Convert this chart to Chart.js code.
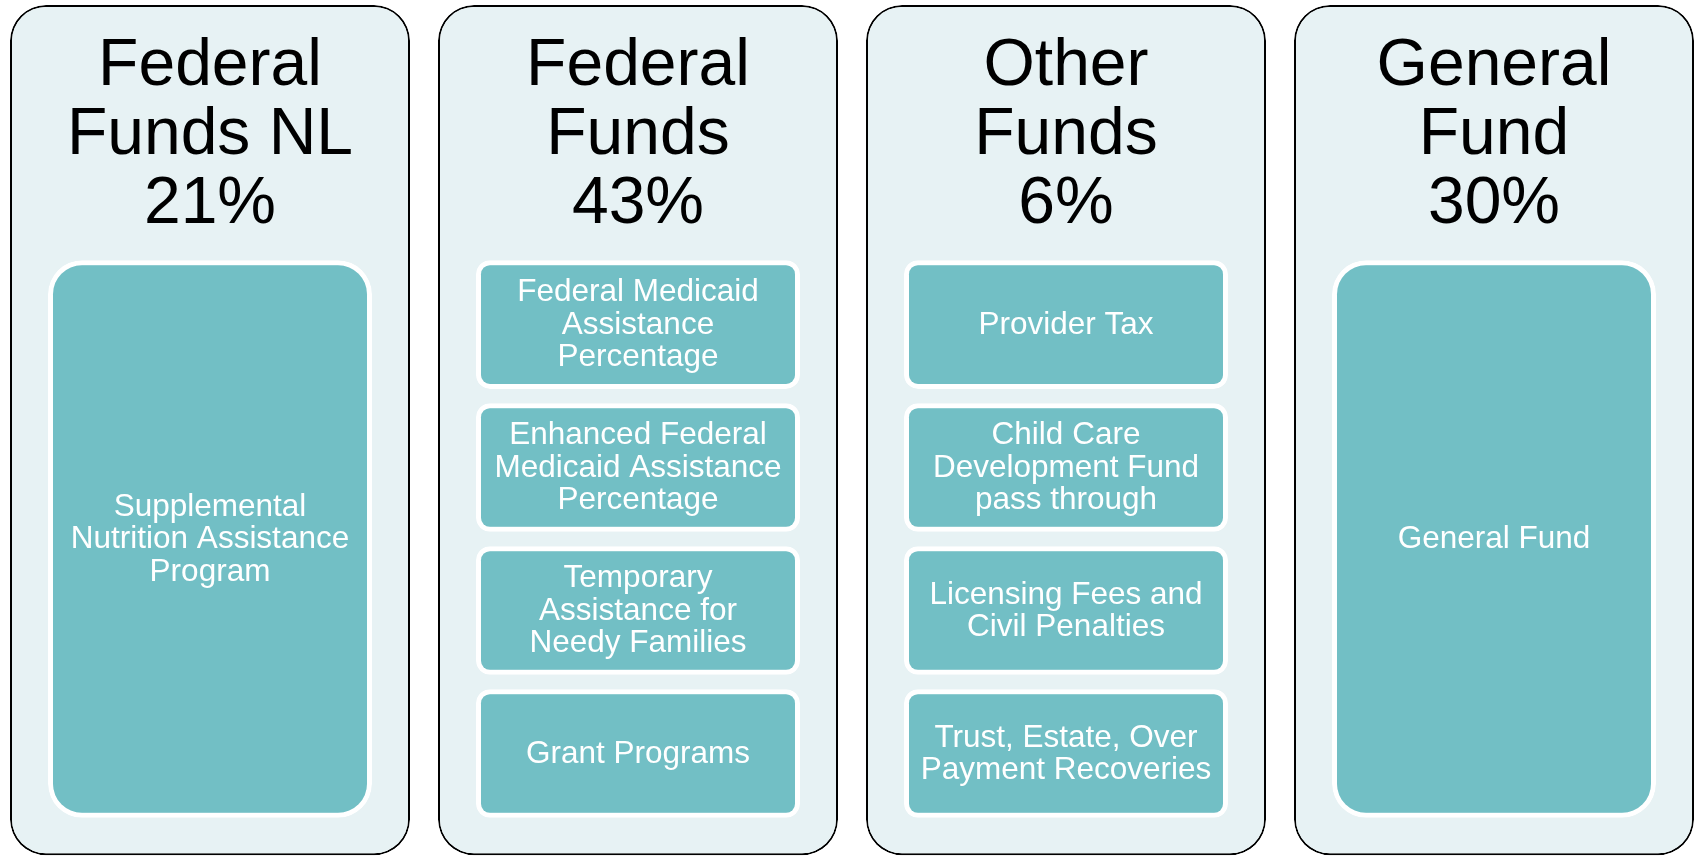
<!DOCTYPE html>
<html>
<head>
<meta charset="utf-8">
<script src="https://cdn.jsdelivr.net/npm/chart.js@4/dist/chart.umd.min.js"></script>
<style>
  html, body { margin: 0; padding: 0; background: #fff; }
  #wrap { width: 1698px; height: 856px; }
</style>
</head>
<body>
<div id="wrap"><canvas id="funds" width="1698" height="856"></canvas></div>
<script>
// fund groups (columns) and their share of the budget
const categories = ['Federal\nFunds NL', 'Federal\nFunds', 'Other\nFunds', 'General\nFund']
const shares = [21, 43, 6, 30]

// programs inside each fund group, top to bottom
const programs = [
  ['Supplemental\nNutrition Assistance\nProgram'],
  ['Federal Medicaid\nAssistance\nPercentage', 'Enhanced Federal\nMedicaid Assistance\nPercentage', 'Temporary\nAssistance for\nNeedy Families', 'Grant Programs'],
  ['Provider Tax', 'Child Care\nDevelopment Fund\npass through', 'Licensing Fees and\nCivil Penalties', 'Trust, Estate, Over\nPayment Recoveries'],
  ['General Fund']
]

const ROWS = 4
// y scale runs in "rows": the title sits above row 0
const Y_MIN = -1.77
const Y_MAX = 4.217
const FRAME = [-1.735, 4.212]
const TITLE_MID = -0.855
const GAP = 0.05

const TEAL = '#72BFC5'
const PALE = '#E7F2F4'

const getElementById = (id) => {
    return document.getElementById(id)
}

const rowData = k => programs.map(list => {
    if (list.length === 1) return k === 0 ? [GAP, ROWS - GAP] : null
    return list[k] ? [k + GAP, k + 1 - GAP] : null
})

const drawLines = (ctx, lines, x, cy, size, lineHeight, color) => {
    ctx.font = size + 'px "Liberation Sans", Arial, sans-serif'
    ctx.fillStyle = color
    const cap = size * 0.716
    const block = (lines.length - 1) * lineHeight + cap
    let base = cy - block / 2 + cap
    lines.forEach(line => {
        ctx.fillText(line, x, base)
        base += lineHeight
    })
}

const labelPlugin = {
    id: 'boxLabels',
    afterDatasetsDraw(chart) {
        const ctx = chart.ctx
        const yScale = chart.scales.y
        ctx.save()
        ctx.textAlign = 'center'
        ctx.textBaseline = 'alphabetic'

        // column titles
        chart.getDatasetMeta(ROWS).data.forEach((bar, i) => {
            const lines = categories[i].split('\n').concat(shares[i] + '%')
            drawLines(ctx, lines, bar.x, yScale.getPixelForValue(TITLE_MID), 66, 69, '#000')
        })

        // program boxes, text sits a touch above the box centre
        for (let k = 0; k < ROWS; k++) {
            chart.getDatasetMeta(k).data.forEach((bar, i) => {
                const text = programs[i][k]
                if (!text) return
                const { x, y, base } = bar.getProps(['x', 'y', 'base'], true)
                drawLines(ctx, text.split('\n'), x, (y + base) / 2 - 2, 31.5, 32.5, '#fff')
            })
        }
        ctx.restore()
    }
}

const datasets = []
for (let k = 0; k < ROWS; k++) {
    datasets.push({
        label: 'row ' + k,
        data: rowData(k),
        order: 0,
        grouped: false,
        categoryPercentage: 1,
        barPercentage: 0.757,
        backgroundColor: TEAL,
        borderColor: '#fff',
        borderWidth: 5,
        borderSkipped: false,
        borderRadius: ctx => programs[ctx.dataIndex].length === 1 ? 34 : 14,
        clip: false
    })
}
datasets.push({
    label: 'frame',
    data: categories.map(() => FRAME),
    order: 1,
    grouped: false,
    categoryPercentage: 1,
    barPercentage: 0.9346,
    backgroundColor: PALE,
    borderColor: '#000',
    borderWidth: 2,
    borderSkipped: false,
    borderRadius: 36,
    clip: false
})

new Chart(getElementById('funds'), {
    type: 'bar',
    data: {
        labels: categories,
        datasets: datasets
    },
    options: {
        responsive: false,
        devicePixelRatio: 1,
        animation: false,
        events: [],
        layout: { padding: { left: 210, right: 204, top: 0, bottom: 0 } },
        scales: {
            x: { type: 'category', offset: false, display: false },
            y: { type: 'linear', reverse: true, min: Y_MIN, max: Y_MAX, display: false }
        },
        plugins: {
            legend: { display: false },
            tooltip: { enabled: false }
        }
    },
    plugins: [labelPlugin]
})
</script>
</body>
</html>
